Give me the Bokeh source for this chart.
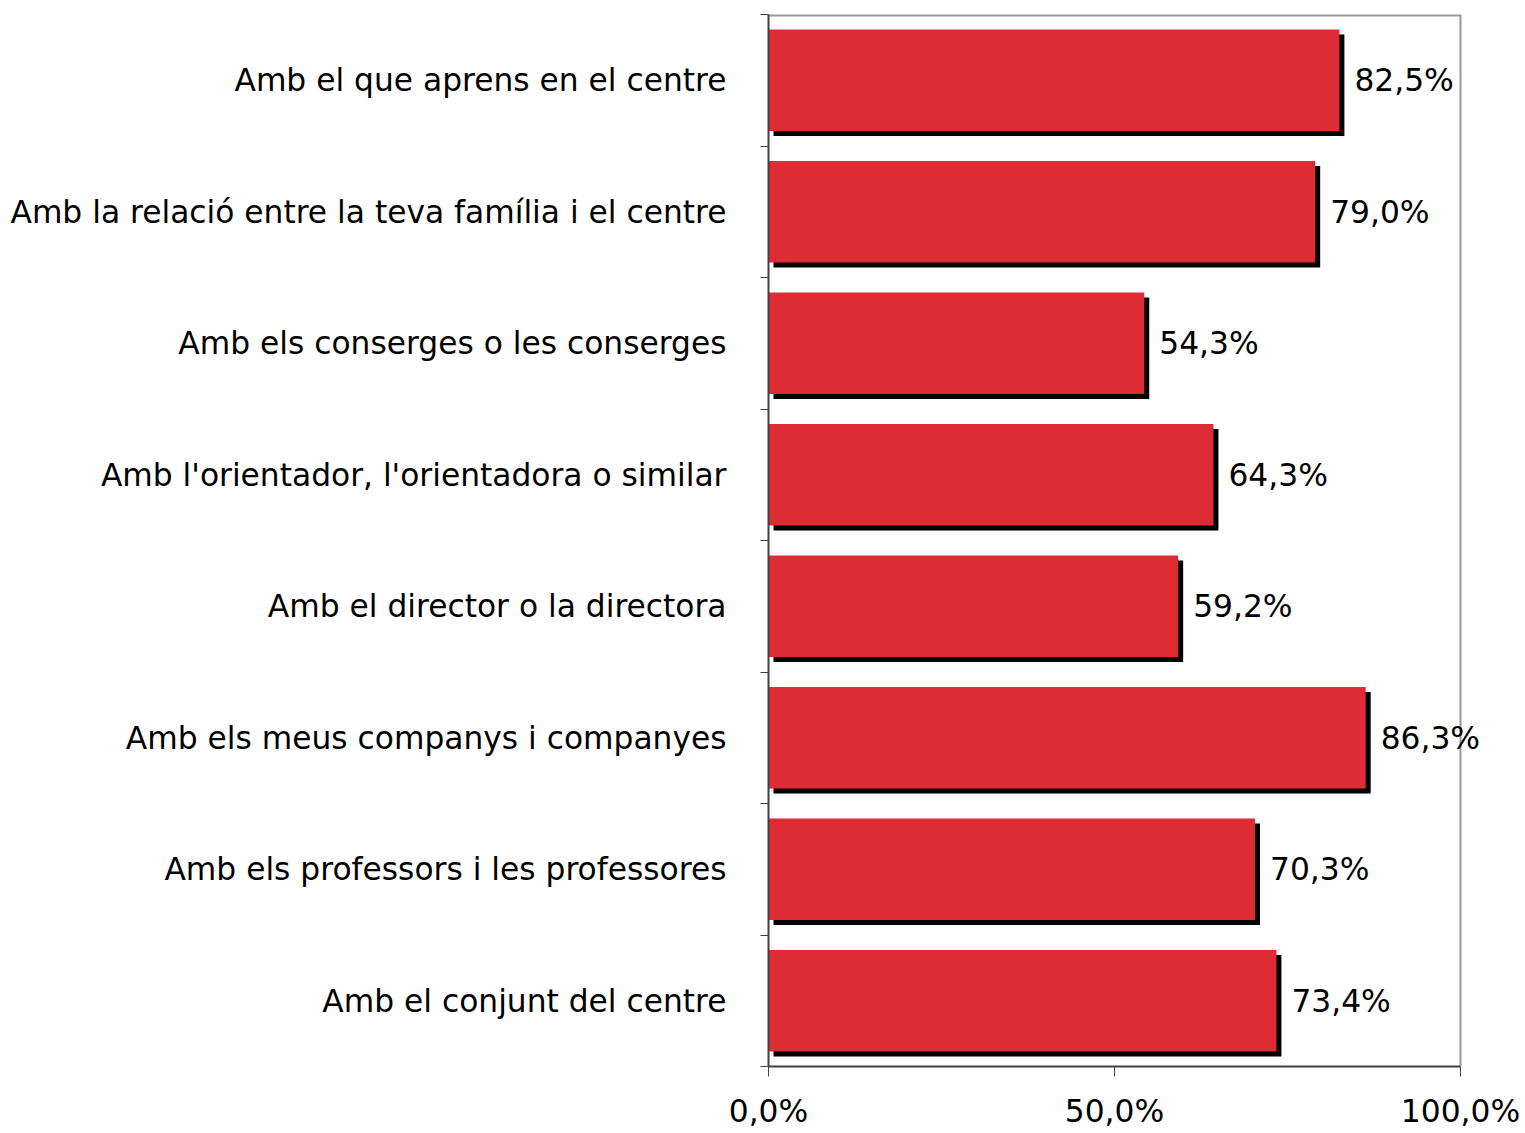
from bokeh.plotting import figure
from bokeh.models import Range1d, FixedTicker, ColumnDataSource, LabelSet
from bokeh.core.properties import value
from bokeh.embed import file_html
from bokeh.resources import INLINE

categories = [
    "Amb el que aprens en el centre",
    "Amb la relació entre la teva família i el centre",
    "Amb els conserges o les conserges",
    "Amb l'orientador, l'orientadora o similar",
    "Amb el director o la directora",
    "Amb els meus companys i companyes",
    "Amb els professors i les professores",
    "Amb el conjunt del centre",
]
values = [82.5, 79.0, 54.3, 64.3, 59.2, 86.3, 70.3, 73.4]
x_ticks = [0, 50, 100]
x_tick_labels = ["0,0%", "50,0%", "100,0%"]

FONT = "DejaVu Sans"
FS = "31.3px"
n = len(categories)
ypos = [n - 1 - i + 0.5 for i in range(n)]
labels = [f"{v:.1f}".replace(".", ",") + "%" for v in values]

PX100 = 692                       # pixels for 0..100 %
FRAME_W = 1520 - 768              # frame extends past 100 % so labels can overflow
x_end = FRAME_W / PX100 * 100
sx = 5 / PX100 * 100              # shadow offset in x data units (5px)
sy = 5 / 131.5                    # shadow offset in y data units (5px)

src = ColumnDataSource(dict(
    y=ypos, v=values, lab=labels,
    ys=[y - sy for y in ypos],
    vs=[v + sx for v in values],
    xs=[sx] * n,
))

p = figure(width=1522, height=1132, output_backend="svg", toolbar_location=None,
           x_range=Range1d(0, x_end), y_range=Range1d(0, n),
           min_border_left=768, min_border_right=2, min_border_top=14, min_border_bottom=66)
p.outline_line_color = None
p.grid.visible = False

# plot-area border (top and right)
p.segment(x0=[0, x_ticks[-1]], y0=[n, 0], x1=[x_ticks[-1], x_ticks[-1]], y1=[n, n],
          line_color="#999999", line_width=[4, 2])

p.hbar(y="ys", left="xs", right="vs", height=0.77, source=src,
       fill_color="black", line_color=None)
p.hbar(y="y", left=0, right="v", height=0.77, source=src,
       fill_color="#DD2C33", line_color=None)
p.add_layout(LabelSet(x="v", y="y", text="lab", source=src, x_offset=15,
                      text_baseline="middle", text_align="left",
                      text_font=value(FONT), text_font_size=value(FS),
                      text_color="black"))

yax = p.yaxis[0]
yax.ticker = FixedTicker(ticks=ypos, minor_ticks=list(range(n + 1)))
yax.major_label_overrides = {y: c for y, c in zip(ypos, categories)}
yax.major_tick_out = 0
yax.major_tick_in = 0
yax.minor_tick_out = 8
yax.minor_tick_in = 0
yax.minor_tick_line_color = "#404040"
yax.axis_line_color = "#404040"
yax.axis_line_width = 2
yax.major_label_standoff = 34
yax.major_label_text_font = FONT
yax.major_label_text_font_size = FS
yax.major_label_text_color = "black"

xax = p.xaxis[0]
xax.ticker = FixedTicker(ticks=x_ticks, minor_ticks=[])
xax.bounds = (x_ticks[0], x_ticks[-1])
xax.major_label_overrides = {t: l for t, l in zip(x_ticks, x_tick_labels)}
xax.major_tick_out = 10
xax.major_tick_in = 0
xax.major_tick_line_color = "#404040"
xax.axis_line_color = "#404040"
xax.axis_line_width = 2
xax.major_label_standoff = 16
xax.major_label_text_font = FONT
xax.major_label_text_font_size = FS
xax.major_label_text_color = "black"

open("out.html", "w").write(file_html(p, INLINE))
